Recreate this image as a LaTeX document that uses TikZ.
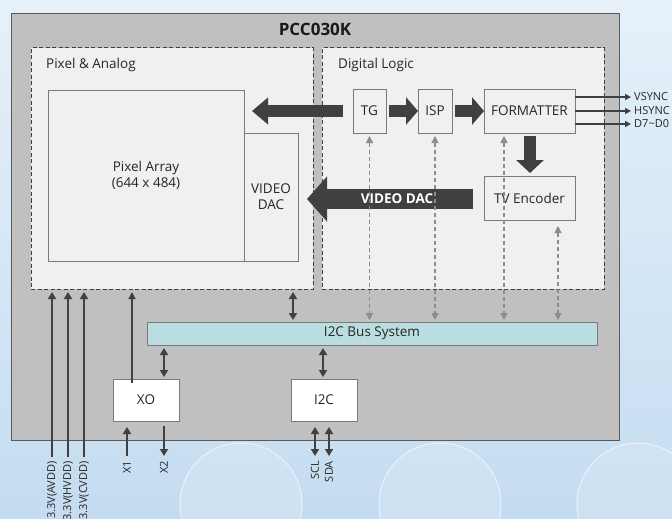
\documentclass[tikz,border=0pt]{standalone}
\usepackage{fontspec}
\setmainfont{Open Sans}
\usetikzlibrary{arrows.meta,calc}
\definecolor{bgtop}{HTML}{E6F1FA}
\definecolor{bgbot}{HTML}{C4DCF1}
\definecolor{chipfill}{HTML}{C0C0C0}
\definecolor{chipline}{HTML}{5A5A5A}
\definecolor{panel}{HTML}{F0F0F0}
\definecolor{boxline}{HTML}{7A7A7A}
\definecolor{dark}{HTML}{404040}
\definecolor{gline}{HTML}{8C8C8C}
\definecolor{busfill}{HTML}{B9DDE1}
\begin{document}
\begin{tikzpicture}[x=1pt,y=-1pt,font=\fontsize{13.5}{16}\selectfont,
  blk/.style={draw=boxline, line width=1pt, inner sep=0pt, outer sep=0pt, anchor=north west, fill=panel, align=center, text=black!85},
  dpanel/.style={draw=dark, line width=1pt, dash pattern=on 4pt off 2.5pt, inner sep=0pt, outer sep=0pt, anchor=north west, fill=panel},
  fat/.style={draw=dark, line width=#1},
  dk/.style={draw=dark, line width=1.7pt, {Triangle[length=7pt,width=8pt]}-{Triangle[length=7pt,width=8pt]}},
  up/.style={draw=dark, line width=1.7pt, -{Triangle[length=7pt,width=8pt]}},
  gd/.style={draw=gline, line width=1.2pt, dash pattern=on 4pt off 3pt, {Triangle[length=7pt,width=7pt]}-{Triangle[length=7pt,width=7pt]}},
  outl/.style={draw=dark, line width=1.4pt, -{Triangle[length=6pt,width=6pt]}},
  sig/.style={font=\fontsize{11}{13}\selectfont, text=black!85, inner sep=0pt},
  rlab/.style={font=\fontsize{11}{13}\selectfont, text=black!85, inner sep=0pt, rotate=90, anchor=east}
]
% background
\shade[top color=bgtop, bottom color=bgbot] (0,0) rectangle (672,519);
\useasboundingbox (0,0) rectangle (672,519);
\begin{scope}
\clip (0,0) rectangle (672,519);
\foreach \cx in {241,440,638}{
  \fill[white, opacity=.15] (\cx,504) circle[radius=61pt];
  \draw[white, opacity=.6, line width=1pt] (\cx,504) circle[radius=61pt];
}
\end{scope}

% chip
\node[draw=chipline, fill=chipfill, line width=1.2pt, inner sep=0pt, anchor=north west, minimum width=608pt, minimum height=427pt] (chip) at (11,13) {};
\node[font=\bfseries\fontsize{17}{20}\selectfont, text=black!90] (title) at (315,29) {PCC030K};

% panels
\node[dpanel, minimum width=282pt, minimum height=241pt] (pa) at (31,48) {};
\node[dpanel, minimum width=282pt, minimum height=241pt] (dl) at (322,48) {};
\node[anchor=west, inner sep=0pt, text=black!85] (palab) at (46,65) {Pixel \& Analog};
\node[anchor=west, inner sep=0pt, text=black!85] (dllab) at (338,65) {Digital Logic};

% blocks
\node[blk, minimum width=196pt, minimum height=171pt] (arr) at (48,90) {Pixel Array\\(644 x 484)};
\node[blk, minimum width=54pt, minimum height=128pt] (dac) at (244,133) {VIDEO\\DAC};
\node[blk, minimum width=33pt, minimum height=44pt] (tg) at (353,89) {TG};
\node[blk, minimum width=34pt, minimum height=44pt] (isp) at (418,89) {ISP};
\node[blk, minimum width=91pt, minimum height=44pt] (fmt) at (484,89) {FORMATTER};
\node[blk, minimum width=91pt, minimum height=44pt] (tve) at (484,176) {TV Encoder};
\node[blk, fill=busfill, minimum width=450pt, minimum height=23pt] (bus) at (147,322) {I2C Bus System};
\node[blk, fill=white, minimum width=66pt, minimum height=42pt] (xo) at (113,379) {XO};
\node[blk, fill=white, minimum width=66pt, minimum height=42pt] (i2c) at (291,379) {I2C};

% fat arrows
\draw[fat=11.5pt, -{Triangle[length=16pt,width=26pt]}, shorten <=10pt, shorten >=8pt] (tg.west) -- (tg.west -| arr.east);
\draw[fat=12pt, -{Triangle[length=12pt,width=27pt]}, shorten <=3pt] (tg.east) -- (isp.west);
\draw[fat=12pt, -{Triangle[length=12pt,width=27pt]}, shorten <=3pt] (isp.east) -- (fmt.west);
\coordinate (fd1) at ($(fmt.south west)+(46,0)$);
\coordinate (fd2) at ($(tve.north west)+(46,0)$);
\draw[fat=12pt, -{Triangle[length=13pt,width=27pt]}, shorten <=3pt, shorten >=3pt] (fd1) -- (fd2);
\coordinate (vd1) at ($(tve.west)+(0,1)$);
\coordinate (vd2) at ($(tve.west -| dac.east)+(0,1)$);
\draw[fat=20pt, -{Triangle[length=20pt,width=44pt]}, shorten <=11pt, shorten >=9pt] (vd1) -- (vd2);
\node[font=\bfseries\fontsize{13.5}{16}\selectfont, text=white, inner sep=0pt] (daclab) at (397,199) {VIDEO DAC};

% outputs
\coordinate (o1) at (631,97);
\coordinate (o2) at (631,111);
\coordinate (o3) at (631,124);
\draw[outl] (o1 -| fmt.east) -- (o1);
\draw[outl] (o2 -| fmt.east) -- (o2);
\draw[outl] (o3 -| fmt.east) -- (o3);
\node[sig, anchor=west] (vs) at (634,97) {VSYNC};
\node[sig, anchor=west] (hs) at (634,111) {HSYNC};
\node[sig, anchor=west] (dd) at (634,124) {D7\textasciitilde D0};

% dashed control lines
\coordinate (c3) at ($(fmt.south west)+(20,0)$);
\coordinate (c4) at ($(tve.south west)+(74,0)$);
\draw[gd, shorten <=3pt, shorten >=2pt] (tg.south) -- (tg.south |- bus.north);
\draw[gd, shorten <=3pt, shorten >=2pt] (isp.south) -- (isp.south |- bus.north);
\draw[gd, shorten <=3pt, shorten >=2pt] (c3) -- (c3 |- bus.north);
\draw[gd, shorten <=6pt, shorten >=2pt] (c4) -- (c4 |- bus.north);

% solid links
\coordinate (pb) at ($(pa.south east)+(-20,0)$);
\draw[dk, shorten <=3pt, shorten >=2pt] (pb) -- (pb |- bus.north);
\coordinate (b1) at ($(bus.south -| xo.north east)+(-15,0)$);
\draw[dk, shorten <=3pt, shorten >=2pt] (b1) -- (b1 |- xo.north);
\coordinate (b2) at ($(bus.south -| i2c.north)+(-1,0)$);
\draw[dk, shorten <=3pt, shorten >=2pt] (b2) -- (b2 |- i2c.north);
\coordinate (xu) at ($(xo.north west)+(19,4)$);
\draw[draw=dark, line width=1.3pt, -{Triangle[length=7pt,width=7pt]}, shorten >=3pt] (xu) -- (xu |- pa.south);

% power pins
\foreach \px/\nm/\lab in {52/p1/AVDD,68/p2/HVDD,84/p3/CVDD}{
  \coordinate (\nm) at (\px,457);
  \draw[up, shorten >=3pt] (\nm) -- (\nm |- pa.south);
  \node[rlab] (\nm l) at (\px,461) {3.3V(\lab)};
}

% XO pins
\coordinate (x1) at (127,456);
\coordinate (x2) at (164,456);
\draw[up, shorten >=6pt] (x1) -- (x1 |- xo.south);
\draw[up, shorten <=5pt] (x2 |- xo.south) -- (x2);
\node[rlab] (x1l) at (127,461) {X1};
\node[rlab] (x2l) at (164,461) {X2};

% I2C pins
\coordinate (scl) at (315,456);
\coordinate (sda) at (329,456);
\draw[dk, shorten >=6pt] (scl) -- (scl |- i2c.south);
\draw[dk, shorten >=6pt] (sda) -- (sda |- i2c.south);
\node[rlab] (scll) at (315,461) {SCL};
\node[rlab] (sdal) at (329,461) {SDA};
\end{tikzpicture}
\end{document}
